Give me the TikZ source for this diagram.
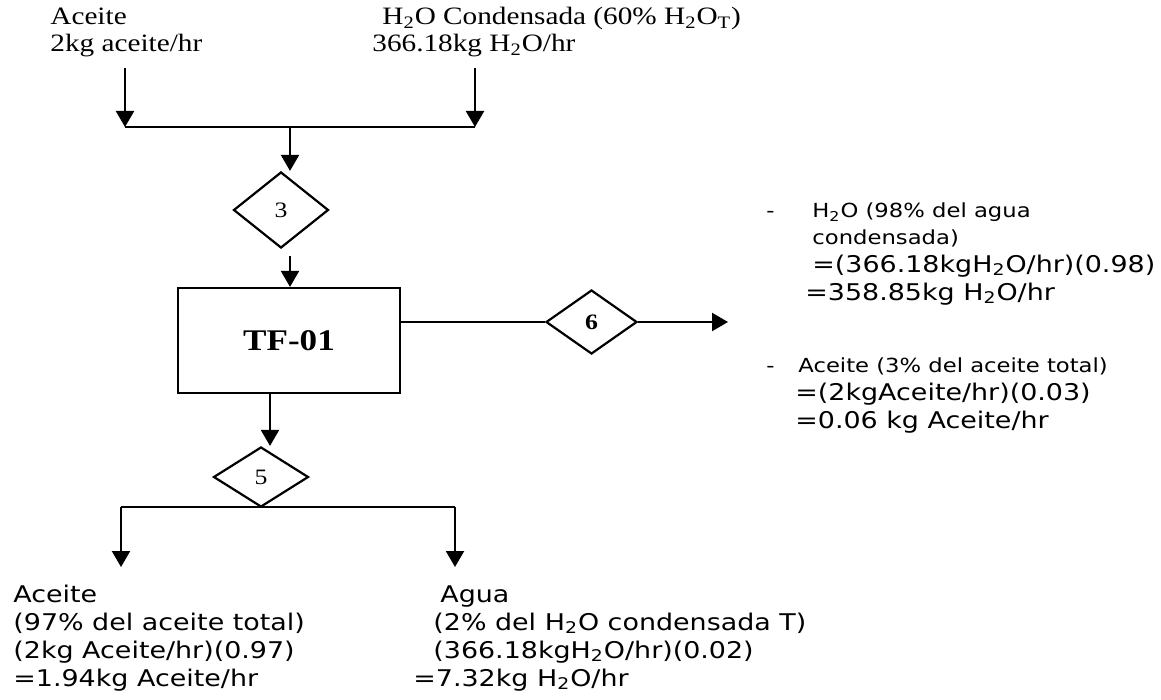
\documentclass[tikz,border=0pt]{standalone}
\usepackage{fontspec}
\setmainfont{Liberation Serif}[FakeStretch=1.17]
\newfontfamily\vsans{DejaVu Sans}[FakeStretch=1.17]
\usetikzlibrary{arrows.meta,shapes.geometric}
\newcommand{\sbs}[1]{\textsubscript{#1}}
\tikzset{
  flow/.style={line width=1.1pt},
  arr/.style={flow,-{Triangle[width=9pt,length=8pt]}},
  valve/.style={draw,line width=1.1pt,diamond,inner sep=0pt,font=\fontsize{11}{13}\selectfont},
  unit/.style={draw,line width=1.1pt,rectangle,inner sep=0pt,font=\fontsize{15}{18}\selectfont\bfseries},
  serif/.style={anchor=base west,inner sep=0pt,font=\fontsize{12.5}{15}\selectfont},
  big/.style={anchor=base west,inner sep=0pt,font=\vsans\fontsize{11.5}{14}\selectfont},
  small/.style={anchor=base west,inner sep=0pt,font=\vsans\fontsize{9.7}{12}\selectfont},
}
\begin{document}
\begin{tikzpicture}[x=0.5pt,y=-0.5pt]
\useasboundingbox (0,0) rectangle (1161,700);
% top labels
\node[serif] (tA1) at (50,25) {Aceite};
\node[serif] (tA2) at (50,52) {2kg aceite/hr};
\node[serif] (tB1) at (382,25) {H\sbs{2}O Condensada (60\% H\sbs{2}O\sbs{T})};
\node[serif] (tB2) at (372,52) {366.18kg H\sbs{2}O/hr};
% equipment
\node[valve,minimum width=47.5pt,minimum height=38pt] (d3) at (281,210) {3};
\node[unit,minimum width=111pt,minimum height=52.5pt] (box) at (289,340.5) {TF-01};
\node[valve,minimum width=45.5pt,minimum height=32pt,font=\fontsize{11}{13}\selectfont\bfseries] (d6) at (591.5,322) {6};
\node[valve,minimum width=47.5pt,minimum height=30pt] (d5) at (261,477) {5};
% coordinates
\coordinate (inA) at (125,68);
\coordinate (inB) at (475,68);
\coordinate (jl) at (125,127);
\coordinate (jr) at (475,127);
\coordinate (jc) at (290,127);
\coordinate (a3) at (290,256);
\coordinate (b5) at (270,0);
\coordinate (out6) at (728,322);
\coordinate (sL) at (121,507);
\coordinate (sR) at (455,507);
\coordinate (eL) at (121,567);
\coordinate (eR) at (455,567);
% connectors
\draw[arr] (inA) -- (jl);
\draw[arr] (inB) -- (jr);
\draw[flow] (jl) -- (jr);
\draw[arr] (jc) -- (jc |- d3.north);
\draw[arr] (a3) -- (a3 |- box.north);
\draw[flow] (box.east |- d6.west) -- (d6.west);
\draw[arr] (d6.east) -- (out6);
\draw[arr] (b5 |- box.south) -- (b5 |- d5.north);
\draw[flow] (sL) -- (sR);
\draw[arr] (sL) -- (eL);
\draw[arr] (sR) -- (eR);
% right labels
\node[small] (r0) at (766,218) {-};
\node[small] (r1) at (812,218) {H\sbs{2}O (98\% del agua};
\node[small] (r2) at (812,245) {condensada)};
\node[big] (r3) at (812,272) {=(366.18kgH\sbs{2}O/hr)(0.98)};
\node[big] (r4) at (805,300) {=358.85kg H\sbs{2}O/hr};
\node[small] (r5) at (766,372) {-};
\node[small] (r6) at (798,372) {Aceite (3\% del aceite total)};
\node[big] (r7) at (795,400) {=(2kgAceite/hr)(0.03)};
\node[big] (r8) at (795,428) {=0.06 kg Aceite/hr};
% bottom labels
\node[big] (l1) at (13,602) {Aceite};
\node[big] (l2) at (13,630) {(97\% del aceite total)};
\node[big] (l3) at (13,658) {(2kg Aceite/hr)(0.97)};
\node[big] (l4) at (13,686) {=1.94kg Aceite/hr};
\node[big] (w1) at (440,602) {Agua};
\node[big] (w2) at (433,630) {(2\% del H\sbs{2}O condensada T)};
\node[big] (w3) at (433,658) {(366.18kgH\sbs{2}O/hr)(0.02)};
\node[big] (w4) at (413,686) {=7.32kg H\sbs{2}O/hr};
\end{tikzpicture}
\end{document}
